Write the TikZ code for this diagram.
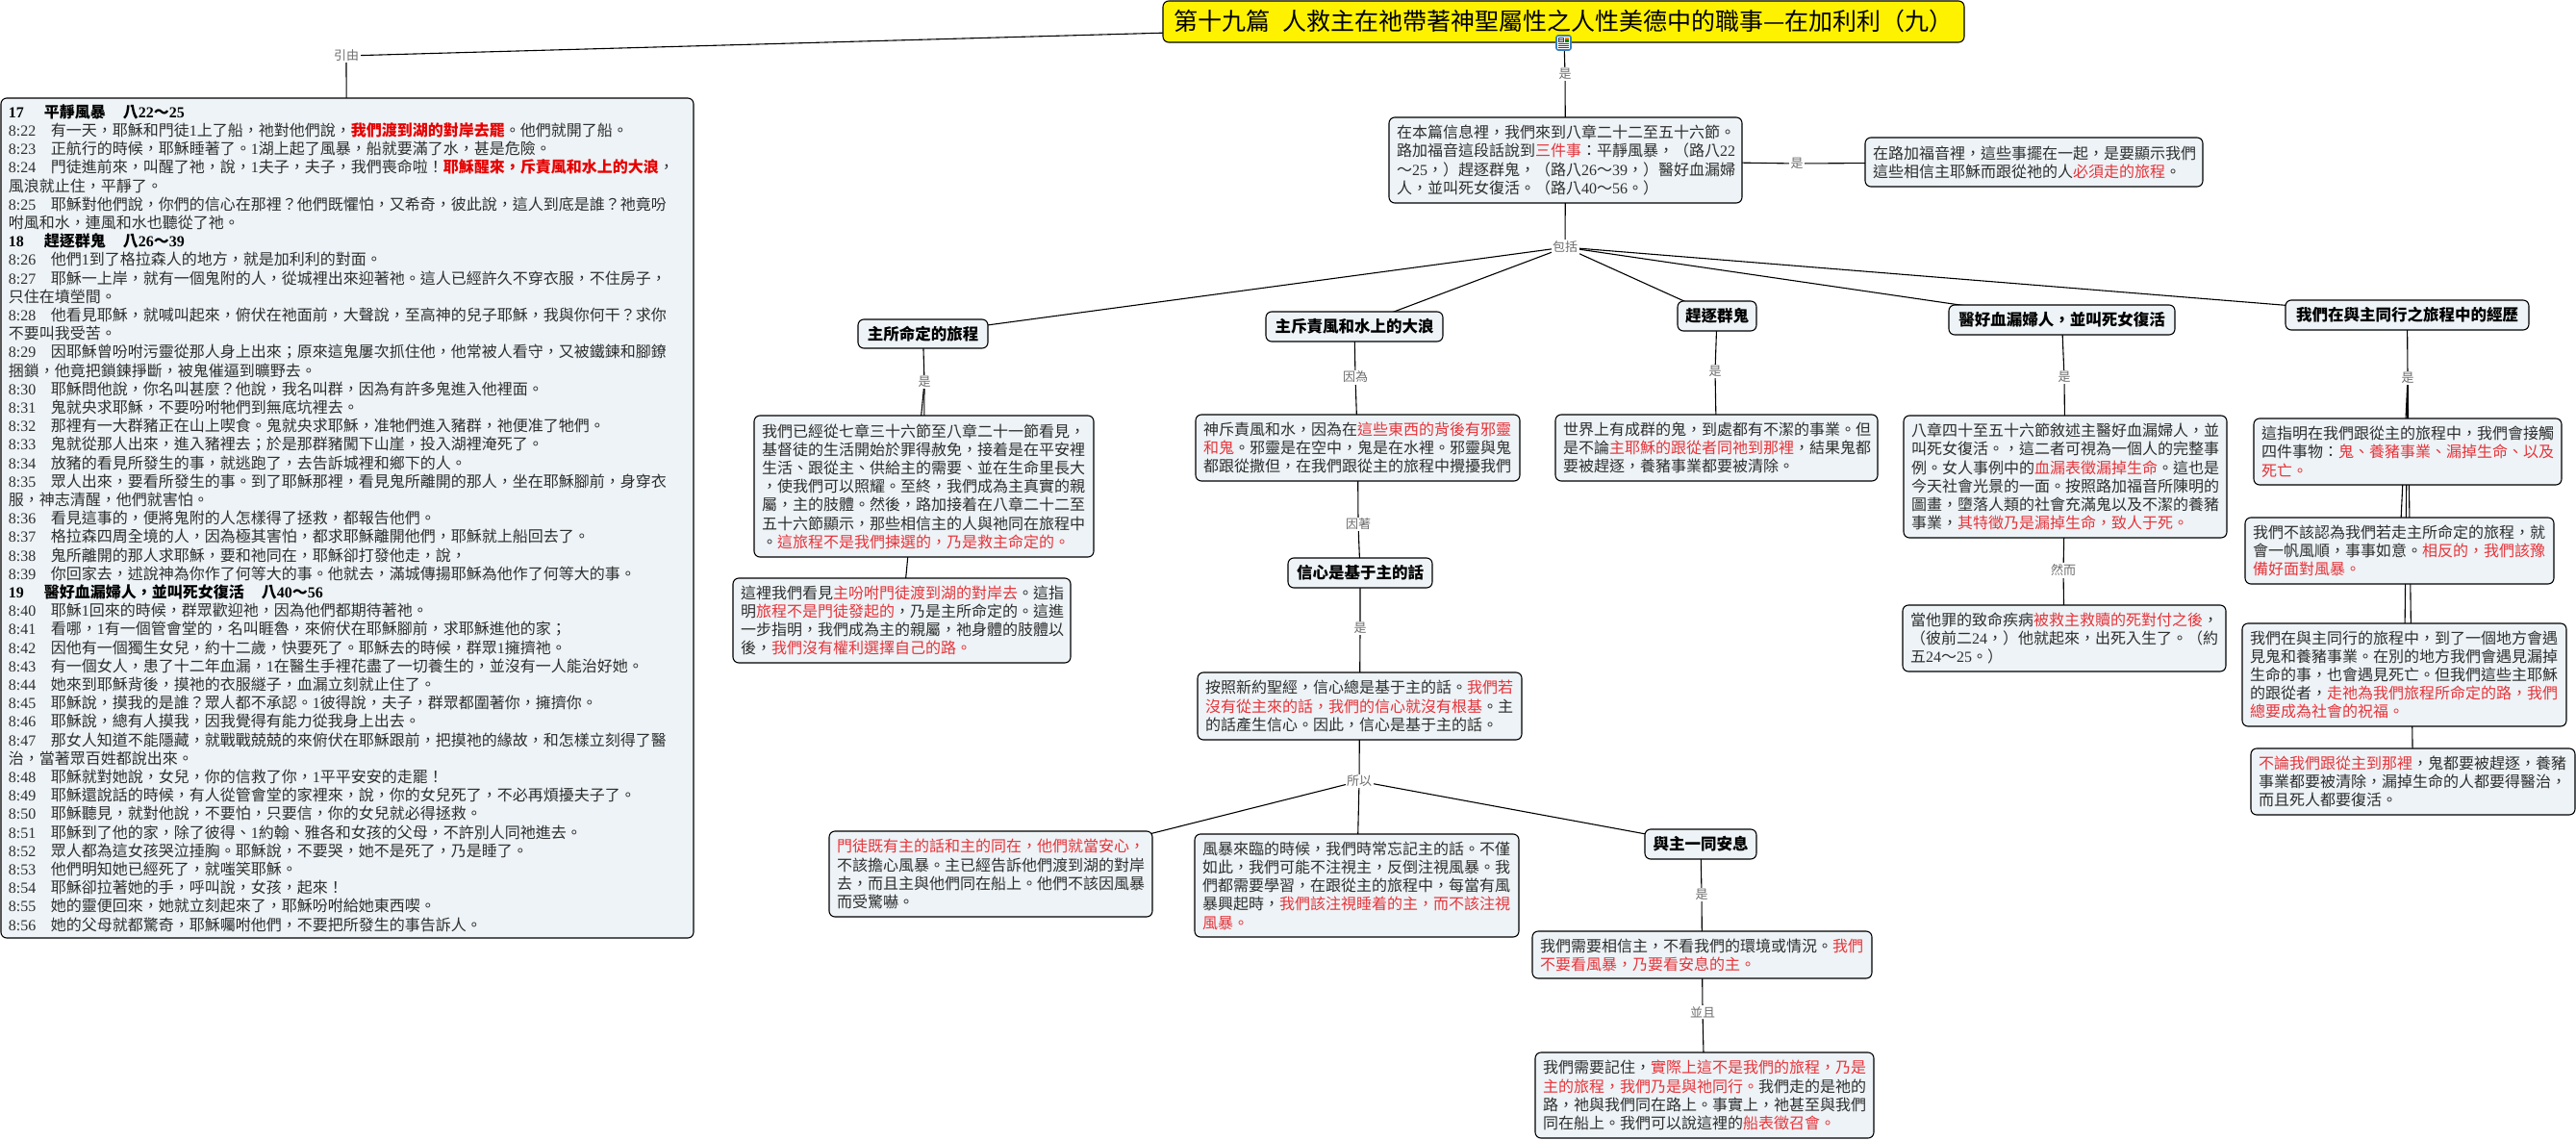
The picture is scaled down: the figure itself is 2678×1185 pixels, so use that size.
\documentclass[tikz,border=0pt]{standalone}
\usepackage{fontspec}
\setmainfont{Noto Sans CJK TC}
\newfontfamily\latinf{Liberation Serif}
\usetikzlibrary{backgrounds}
\definecolor{boxfill}{HTML}{EDF3F6}
\definecolor{txt}{HTML}{2E2E2E}
\definecolor{redt}{HTML}{E6343A}
\definecolor{redb}{HTML}{E60000}
\definecolor{lab}{HTML}{6E6E6E}
\definecolor{iconblue}{HTML}{3A7FC0}
\newcommand\dg[1]{{\latinf #1}}
\newcommand\rd[1]{\textcolor{redt}{#1}}
\newcommand\rb[1]{\textcolor{redb}{\bfseries #1}}
\newcommand\vsn[1]{\makebox[43.8pt][l]{\dg{#1}}}
\newcommand\hdr[5]{{\color{black}\bfseries\makebox[37pt][l]{\dg{#1}}#2\hspace{18pt}#3\dg{#4}～\dg{#5}}}
\tikzset{
  boxstyle/.style={draw=black,line width=1.1pt,fill=boxfill,rounded corners=6pt,inner xsep=8pt,inner ysep=0pt,outer sep=0pt,text=txt,font=\fontsize{16pt}{19.2pt}\selectfont},
  headstyle/.style={boxstyle,text=black,font=\fontsize{16.5pt}{19.2pt}\selectfont\bfseries},
  titlestyle/.style={draw=black,line width=1.1pt,fill=yellow,rounded corners=6pt,inner sep=0pt,outer sep=0pt,text=black,font=\fontsize{25pt}{30pt}\selectfont},
  lbl/.style={fill=white,inner sep=1.5pt,text=lab,font=\fontsize{13pt}{15pt}\selectfont},
  conn/.style={draw=black,line width=1.1pt}
}
% #1 style, #2 name, #3 x1, #4 y1, #5 x2, #6 y2, #7 text
\newcommand\bx[7][boxstyle,align=left]{%
  \pgfmathsetmacro\bxw{#5-#3}\pgfmathsetmacro\bxh{#6-#4}%
  \pgfmathsetmacro\bxtw{#5-#3-16}%
  \pgfmathsetmacro\bxcx{(#3+#5)/2}\pgfmathsetmacro\bxcy{(#4+#6)/2}%
  \node[#1,minimum width=\bxw pt,minimum height=\bxh pt,text width=\bxtw pt] (#2) at (\bxcx,\bxcy) {#7};%
}
\newcommand\hd[6]{%
  \pgfmathsetmacro\bxw{#4-#2}\pgfmathsetmacro\bxh{#5-#3}%
  \pgfmathsetmacro\bxcx{(#2+#4)/2}\pgfmathsetmacro\bxcy{(#3+#5)/2}%
  \node[headstyle,align=center,inner xsep=0pt,minimum width=\bxw pt,minimum height=\bxh pt] (#1) at (\bxcx,\bxcy) {#6};%
}
\begin{document}
\begin{tikzpicture}[x=1pt,y=-1pt]
\useasboundingbox (0,0) rectangle (2678,1185);
% title
\node[titlestyle,minimum width=833pt,minimum height=43pt,align=center] (title) at (1625.5,22.5) {第十九篇\hspace{.5em}人救主在祂帶著神聖屬性之人性美德中的職事—在加利利（九）};
% icon
\node[draw=iconblue,line width=1.6pt,fill=white,rounded corners=2pt,minimum width=15pt,minimum height=15pt,inner sep=0pt] (icon) at (1625.5,44.5) {};
\fill[black!75] (1620,39) rectangle (1626,44.5);
\fill[white] (1621,40) rectangle (1625,41);
\fill[white] (1621,42) rectangle (1625,43);
\fill[orange] (1627,39) rectangle (1631,41.5);
\fill[green!50!black] (1627,41.5) rectangle (1631,44);
\foreach \yy in {46,48,50}{\draw[black!75,line width=1pt] (1620,\yy) -- (1631,\yy);}
% left box
\bx{lbox}{1}{102}{721}{975}{%
\hdr{17}{平靜風暴}{八}{22}{25}\\
\vsn{8:22}有一天，耶穌和門徒\dg{1}上了船，祂對他們說，\rb{我們渡到湖的對岸去罷}。他們就開了船。\\
\vsn{8:23}正航行的時候，耶穌睡著了。\dg{1}湖上起了風暴，船就要滿了水，甚是危險。\\
\vsn{8:24}門徒進前來，叫醒了祂，說，\dg{1}夫子，夫子，我們喪命啦！\rb{耶穌醒來，斥責風和水上的大浪}，\\
風浪就止住，平靜了。\\
\vsn{8:25}耶穌對他們說，你們的信心在那裡？他們既懼怕，又希奇，彼此說，這人到底是誰？祂竟吩\\
咐風和水，連風和水也聽從了祂。\\
\hdr{18}{趕逐群鬼}{八}{26}{39}\\
\vsn{8:26}他們\dg{1}到了格拉森人的地方，就是加利利的對面。\\
\vsn{8:27}耶穌一上岸，就有一個鬼附的人，從城裡出來迎著祂。這人已經許久不穿衣服，不住房子，\\
只住在墳塋間。\\
\vsn{8:28}他看見耶穌，就喊叫起來，俯伏在祂面前，大聲說，至高神的兒子耶穌，我與你何干？求你\\
不要叫我受苦。\\
\vsn{8:29}因耶穌曾吩咐污靈從那人身上出來；原來這鬼屢次抓住他，他常被人看守，又被鐵鍊和腳鐐\\
捆鎖，他竟把鎖鍊掙斷，被鬼催逼到曠野去。\\
\vsn{8:30}耶穌問他說，你名叫甚麼？他說，我名叫群，因為有許多鬼進入他裡面。\\
\vsn{8:31}鬼就央求耶穌，不要吩咐牠們到無底坑裡去。\\
\vsn{8:32}那裡有一大群豬正在山上喫食。鬼就央求耶穌，准牠們進入豬群，祂便准了牠們。\\
\vsn{8:33}鬼就從那人出來，進入豬裡去；於是那群豬闖下山崖，投入湖裡淹死了。\\
\vsn{8:34}放豬的看見所發生的事，就逃跑了，去告訴城裡和鄉下的人。\\
\vsn{8:35}眾人出來，要看所發生的事。到了耶穌那裡，看見鬼所離開的那人，坐在耶穌腳前，身穿衣\\
服，神志清醒，他們就害怕。\\
\vsn{8:36}看見這事的，便將鬼附的人怎樣得了拯救，都報告他們。\\
\vsn{8:37}格拉森四周全境的人，因為極其害怕，都求耶穌離開他們，耶穌就上船回去了。\\
\vsn{8:38}鬼所離開的那人求耶穌，要和祂同在，耶穌卻打發他走，說，\\
\vsn{8:39}你回家去，述說神為你作了何等大的事。他就去，滿城傳揚耶穌為他作了何等大的事。\\
\hdr{19}{醫好血漏婦人，並叫死女復活}{八}{40}{56}\\
\vsn{8:40}耶穌\dg{1}回來的時候，群眾歡迎祂，因為他們都期待著祂。\\
\vsn{8:41}看哪，\dg{1}有一個管會堂的，名叫睚魯，來俯伏在耶穌腳前，求耶穌進他的家；\\
\vsn{8:42}因他有一個獨生女兒，約十二歲，快要死了。耶穌去的時候，群眾\dg{1}擁擠祂。\\
\vsn{8:43}有一個女人，患了十二年血漏，\dg{1}在醫生手裡花盡了一切養生的，並沒有一人能治好她。\\
\vsn{8:44}她來到耶穌背後，摸祂的衣服繸子，血漏立刻就止住了。\\
\vsn{8:45}耶穌說，摸我的是誰？眾人都不承認。\dg{1}彼得說，夫子，群眾都圍著你，擁擠你。\\
\vsn{8:46}耶穌說，總有人摸我，因我覺得有能力從我身上出去。\\
\vsn{8:47}那女人知道不能隱藏，就戰戰兢兢的來俯伏在耶穌跟前，把摸祂的緣故，和怎樣立刻得了醫\\
治，當著眾百姓都說出來。\\
\vsn{8:48}耶穌就對她說，女兒，你的信救了你，\dg{1}平平安安的走罷！\\
\vsn{8:49}耶穌還說話的時候，有人從管會堂的家裡來，說，你的女兒死了，不必再煩擾夫子了。\\
\vsn{8:50}耶穌聽見，就對他說，不要怕，只要信，你的女兒就必得拯救。\\
\vsn{8:51}耶穌到了他的家，除了彼得、\dg{1}約翰、雅各和女孩的父母，不許別人同祂進去。\\
\vsn{8:52}眾人都為這女孩哭泣捶胸。耶穌說，不要哭，她不是死了，乃是睡了。\\
\vsn{8:53}他們明知她已經死了，就嗤笑耶穌。\\
\vsn{8:54}耶穌卻拉著她的手，呼叫說，女孩，起來！\\
\vsn{8:55}她的靈便回來，她就立刻起來了，耶穌吩咐給她東西喫。\\
\vsn{8:56}她的父母就都驚奇，耶穌囑咐他們，不要把所發生的事告訴人。}
% main nodes
\bx{main}{1444}{122}{1811}{211}{在本篇信息裡，我們來到八章二十二至五十六節。\\路加福音這段話說到\rd{三件事}：平靜風暴，（路八\dg{22}\\～\dg{25}，）趕逐群鬼，（路八\dg{26}～\dg{39}，）醫好血漏婦\\人，並叫死女復活。（路八\dg{40}～\dg{56}。）}
\bx{rnode}{1939}{143}{2290}{194}{在路加福音裡，這些事擺在一起，是要顯示我們\\這些相信主耶穌而跟從祂的人\rd{必須走的旅程}。}
% column 1
\hd{h1}{892}{332}{1027}{362}{主所命定的旅程}
\bx{a1}{784}{432}{1137}{579}{我們已經從七章三十六節至八章二十一節看見，\\基督徒的生活開始於罪得赦免，接着是在平安裡\\生活、跟從主、供給主的需要、並在生命里長大\\，使我們可以照耀。至終，我們成為主真實的親\\屬，主的肢體。然後，路加接着在八章二十二至\\五十六節顯示，那些相信主的人與祂同在旅程中\\。\rd{這旅程不是我們揀選的，乃是救主命定的。}}
\bx{a2}{762}{601}{1113}{689}{這裡我們看見\rd{主吩咐門徒渡到湖的對岸去}。這指\\明\rd{旅程不是門徒發起的}，乃是主所命定的。這進\\一步指明，我們成為主的親屬，祂身體的肢體以\\後，\rd{我們沒有權利選擇自己的路。}}
% column 2
\hd{h2}{1316}{324}{1500}{355}{主斥責風和水上的大浪}
\bx{b1}{1243}{431}{1580}{500}{神斥責風和水，因為在\rd{這些東西的背後有邪靈}\\\rd{和鬼}。邪靈是在空中，鬼是在水裡。邪靈與鬼\\都跟從撒但，在我們跟從主的旅程中攪擾我們}
\hd{b2}{1339}{580}{1489}{611}{信心是基于主的話}
\bx{b3}{1245}{699}{1582}{769}{按照新約聖經，信心總是基于主的話。\rd{我們若}\\\rd{沒有從主來的話，我們的信心就沒有根基}。主\\的話產生信心。因此，信心是基于主的話。}
\bx{b4}{862}{864}{1198}{953}{\rd{門徒既有主的話和主的同在，他們就當安心，}\\不該擔心風暴。主已經告訴他們渡到湖的對岸\\去，而且主與他們同在船上。他們不該因風暴\\而受驚嚇。}
\bx{b5}{1242}{867}{1579}{974}{風暴來臨的時候，我們時常忘記主的話。不僅\\如此，我們可能不注視主，反倒注視風暴。我\\們都需要學習，在跟從主的旅程中，每當有風\\暴興起時，\rd{我們該注視睡着的主，而不該注視}\\\rd{風暴。}}
\hd{b6}{1710}{862}{1826}{893}{與主一同安息}
\bx{b7}{1593}{968}{1946}{1017}{我們需要相信主，不看我們的環境或情況。\rd{我們}\\\rd{不要看風暴，乃要看安息的主。}}
\bx{b8}{1596}{1094}{1948}{1183}{我們需要記住，\rd{實際上這不是我們的旅程，乃是}\\\rd{主的旅程，我們乃是與祂同行。}我們走的是祂的\\路，祂與我們同在路上。事實上，祂甚至與我們\\同在船上。我們可以說這裡的\rd{船表徵召會。}}
% column 3
\hd{h3}{1744}{313}{1826}{344}{趕逐群鬼}
\bx{c1}{1617}{431}{1952}{500}{世界上有成群的鬼，到處都有不潔的事業。但\\是不論\rd{主耶穌的跟從者同祂到那裡}，結果鬼都\\要被趕逐，養豬事業都要被清除。}
% column 4
\hd{h4}{2026}{317}{2261}{348}{醫好血漏婦人，並叫死女復活}
\bx{d1}{1979}{432}{2315}{559}{八章四十至五十六節敘述主醫好血漏婦人，並\\叫死女復活。，這二者可視為一個人的完整事\\例。女人事例中的\rd{血漏表徵漏掉生命}。這也是\\今天社會光景的一面。按照路加福音所陳明的\\圖畫，墮落人類的社會充滿鬼以及不潔的養豬\\事業，\rd{其特徵乃是漏掉生命，致人于死。}}
\bx{d2}{1978}{629}{2314}{698}{當他罪的致命疾病\rd{被救主救贖的死對付之後}，\\（彼前二\dg{24}，）他就起來，出死入生了。（約\\五\dg{24}～\dg{25}。）}
% column 5
\hd{h5}{2376}{312}{2629}{343}{我們在與主同行之旅程中的經歷}
\bx{e1}{2343}{435}{2663}{504}{這指明在我們跟從主的旅程中，我們會接觸\\四件事物：\rd{鬼、養豬事業、漏掉生命、以及}\\\rd{死亡。}}
\bx{e2}{2334}{538}{2655}{607}{我們不該認為我們若走主所命定的旅程，就\\會一帆風順，事事如意。\rd{相反的，我們該豫}\\\rd{備好面對風暴。}}
\bx{e3}{2331}{648}{2668}{755}{我們在與主同行的旅程中，到了一個地方會遇\\見鬼和養豬事業。在別的地方我們會遇見漏掉\\生命的事，也會遇見死亡。但我們這些主耶穌\\的跟從者，\rd{走祂為我們旅程所命定的路，我們}\\\rd{總要成為社會的祝福。}}
\bx{e4}{2340}{778}{2677}{847}{\rd{不論我們跟從主到那裡}，鬼都要被趕逐，養豬\\事業都要被清除，漏掉生命的人都要得醫治，\\而且死人都要復活。}
% labels
\node[lbl] (l0) at (360,58) {引由};
\node[lbl] (l1) at (1627,77) {是};
\node[lbl] (l2) at (1868,170) {是};
\node[lbl] (l3) at (1627,257) {包括};
\node[lbl] (l4) at (961,397) {是};
\node[lbl] (l5) at (1409,392) {因為};
\node[lbl] (l6) at (1412,545) {因著};
\node[lbl] (l7) at (1414,653) {是};
\node[lbl] (l8) at (1413,812) {所以};
\node[lbl] (l9) at (1769,930) {是};
\node[lbl] (l10) at (1770,1052) {並且};
\node[lbl] (l11) at (1783,386) {是};
\node[lbl] (l12) at (2146,392) {是};
\node[lbl] (l13) at (2145,593) {然而};
\node[lbl] (l14) at (2503,393) {是};
% connectors
\begin{pgfonlayer}{background}
\fill[white] (0,0) rectangle (2678,1185);
\draw[conn] (title.center) -- (l0.center) -- (lbox.center);
\draw[conn] (title.center) -- (l1.center) -- (main.center);
\draw[conn] (main.center) -- (l2.center) -- (rnode.center);
\draw[conn] (main.center) -- (l3.center);
\foreach \t in {h1,h2,h3,h4,h5}{\draw[conn] (l3.center) -- (\t.center);}
\draw[conn] (h1.center) -- (l4.center) -- (a1.center);
\draw[conn] (l4.center) -- (a2.center);
\draw[conn] (h2.center) -- (l5.center) -- (b1.center);
\draw[conn] (b1.center) -- (l6.center) -- (b2.center);
\draw[conn] (b2.center) -- (l7.center) -- (b3.center);
\draw[conn] (b3.center) -- (l8.center);
\foreach \t in {b4,b5,b6}{\draw[conn] (l8.center) -- (\t.center);}
\draw[conn] (b6.center) -- (l9.center) -- (b7.center);
\draw[conn] (b7.center) -- (l10.center) -- (b8.center);
\draw[conn] (h3.center) -- (l11.center) -- (c1.center);
\draw[conn] (h4.center) -- (l12.center) -- (d1.center);
\draw[conn] (d1.center) -- (l13.center) -- (d2.center);
\draw[conn] (h5.center) -- (l14.center);
\foreach \t in {e1,e2,e3,e4}{\draw[conn] (l14.center) -- (\t.center);}
\end{pgfonlayer}
\end{tikzpicture}
\end{document}
